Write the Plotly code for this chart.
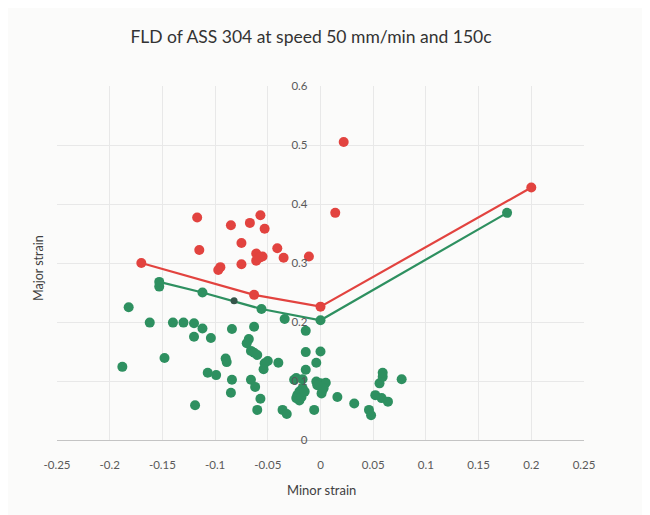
import plotly.graph_objects as go

# Forming limit curves
red_curve_x = [-0.170, -0.063, 0.000, 0.200]
red_curve_y = [0.300, 0.246, 0.226, 0.428]
green_curve_x = [-0.153, -0.112, -0.056, 0.000, 0.177]
green_curve_y = [0.268, 0.250, 0.222, 0.203, 0.385]

# Failure (red) points
red_x = [-0.117, -0.085, -0.067, -0.057, -0.053, -0.075, -0.115, -0.041, -0.061, -0.055,
         -0.058, -0.061, -0.035, -0.011, -0.075, -0.095, -0.097, 0.014, 0.022]
red_y = [0.377, 0.364, 0.368, 0.381, 0.358, 0.334, 0.322, 0.325, 0.316, 0.311,
         0.309, 0.304, 0.309, 0.311, 0.298, 0.293, 0.288, 0.385, 0.505]

# Safe (green) points
green_x = [-0.153, -0.182, -0.162, -0.140, -0.130, -0.120, -0.112, -0.120, -0.104, -0.084,
           -0.063, -0.034, -0.014, -0.188, -0.148, -0.068, -0.070, -0.066, -0.063, -0.060,
           -0.050, -0.053, -0.054, -0.040, -0.090, -0.089, -0.107, -0.099, -0.084, -0.066,
           -0.062, -0.085, -0.057, -0.119, -0.060, -0.036, -0.032, -0.014, 0.000, -0.004,
           -0.014, -0.023, -0.025, -0.017, -0.017, -0.020, -0.022, -0.023, -0.020, -0.018,
           -0.015, -0.006, -0.004, 0.000, 0.005, 0.002, 0.001, 0.003, -0.003, 0.016,
           0.032, 0.046, 0.048, 0.052, 0.058, 0.064, 0.056, 0.059, 0.059, 0.077]
green_y = [0.260, 0.225, 0.199, 0.199, 0.199, 0.198, 0.189, 0.175, 0.173, 0.188,
           0.192, 0.205, 0.185, 0.124, 0.139, 0.171, 0.164, 0.151, 0.148, 0.144,
           0.134, 0.130, 0.120, 0.131, 0.138, 0.132, 0.114, 0.110, 0.102, 0.102,
           0.090, 0.080, 0.070, 0.059, 0.051, 0.051, 0.044, 0.149, 0.150, 0.131,
           0.119, 0.105, 0.102, 0.103, 0.088, 0.082, 0.076, 0.071, 0.067, 0.073,
           0.082, 0.051, 0.099, 0.096, 0.097, 0.085, 0.079, 0.088, 0.093, 0.073,
           0.062, 0.051, 0.042, 0.076, 0.071, 0.065, 0.096, 0.107, 0.114, 0.103]

# Single darker marker on the green curve
dark_x = [-0.082]
dark_y = [0.236]

x_ticks = [-0.25, -0.2, -0.15, -0.1, -0.05, 0, 0.05, 0.1, 0.15, 0.2, 0.25]
x_tick_text = ["-0.25", "-0.2", "-0.15", "-0.1", "-0.05", "0", "0.05", "0.1", "0.15", "0.2", "0.25"]
y_ticks = [0, 0.1, 0.2, 0.3, 0.4, 0.5, 0.6]
y_tick_text = ["0", "0.1", "0.2", "0.3", "0.4", "0.5", "0.6"]

RED = "#e2433f"
GREEN = "#2e9060"
FONT = "Lato"

W, H = 642, 507          # page has an 8px body margin
L, R, T, B = 49, 66, 78, 75
pw, ph = W - L - R, H - T - B


def to_paper(px, py):
    # page pixel -> paper coordinates
    return (px - 8 - L) / pw, (H - B - (py - 8)) / ph


fig = go.Figure()
fig.add_trace(go.Scatter(x=green_x, y=green_y, mode="markers",
                         marker=dict(color=GREEN, size=10), showlegend=False))
fig.add_trace(go.Scatter(x=red_x, y=red_y, mode="markers",
                         marker=dict(color=RED, size=10), showlegend=False))
fig.add_trace(go.Scatter(x=green_curve_x, y=green_curve_y, mode="lines+markers",
                         line=dict(color=GREEN, width=2.2),
                         marker=dict(color=GREEN, size=10), showlegend=False))
fig.add_trace(go.Scatter(x=red_curve_x, y=red_curve_y, mode="lines+markers",
                         line=dict(color=RED, width=2.2),
                         marker=dict(color=RED, size=10), showlegend=False))
fig.add_trace(go.Scatter(x=dark_x, y=dark_y, mode="markers",
                         marker=dict(color="#35554a", size=7), showlegend=False))

yx, yy = to_paper(38, 268)
xx, xy = to_paper(321, 490)

fig.update_layout(
    width=W, height=H,
    margin=dict(l=L, r=R, t=T, b=B),
    paper_bgcolor="#fbfbfa",
    plot_bgcolor="#fbfbfa",
    font=dict(family=FONT, color="#595959", size=11),
    title=dict(text="FLD of ASS 304 at speed 50 mm/min and 150c",
               x=(311 - 8) / W, xref="container", xanchor="center",
               y=1 - (37 - 8) / H, yref="container", yanchor="middle",
               font=dict(family=FONT, size=17.5, color="#333333")),
    xaxis=dict(range=[-0.25, 0.25], tickvals=x_ticks, ticktext=x_tick_text,
               showgrid=True, gridcolor="#e8e8e8", gridwidth=1,
               showline=True, linecolor="#c4c4c4", linewidth=1,
               zeroline=False, ticks="", ticklabelstandoff=14,
               tickfont=dict(family=FONT, size=11.5, color="#595959")),
    yaxis=dict(range=[0, 0.6], tickvals=y_ticks, ticktext=y_tick_text,
               anchor="free", position=0.5,
               showgrid=True, gridcolor="#e8e8e8", gridwidth=1,
               showline=False, zeroline=False, ticks="",
               ticklabelstandoff=13,
               tickfont=dict(family=FONT, size=11.5, color="#595959")),
    annotations=[
        dict(text="Major strain", x=yx, y=yy, xref="paper", yref="paper",
             xanchor="center", yanchor="middle",
             showarrow=False, textangle=-90,
             font=dict(family=FONT, size=12.5, color="#404040")),
        dict(text="Minor strain", x=xx, y=xy, xref="paper", yref="paper",
             xanchor="center", yanchor="middle", showarrow=False,
             font=dict(family=FONT, size=13, color="#404040")),
    ],
)
fig.write_html("out.html")
